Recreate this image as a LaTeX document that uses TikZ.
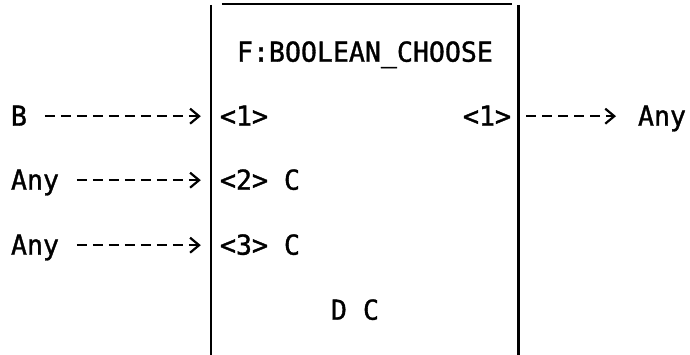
\documentclass[tikz,border=0pt]{standalone}
\usepackage{fontspec}
\usetikzlibrary{arrows.meta, positioning, calc}
\newfontfamily\ttdv{DejaVu Sans Mono}[FakeBold=1.2, FakeStretch=0.966]

\begin{document}
\begin{tikzpicture}[
  x=1pt, y=1pt,
  txt/.style={inner sep=0pt, outer sep=0pt, anchor=base west,
              text height=19pt, text depth=0pt,
              font=\ttdv\fontsize{27.5}{30}\selectfont},
  fnbox/.style={rectangle, draw=none, inner sep=0pt,
                minimum width=307pt, minimum height=350pt},
  vline/.style={line width=2.6pt},
  hline/.style={line width=1.5pt},
  darr/.style={line width=2.2pt, dash pattern=on 10pt off 6pt,
               -{Straight Barb[length=9pt, width=15pt, sep=7pt]}}
]
\useasboundingbox (0,0) rectangle (690,355);

%% ---- Function box ----
\node[fnbox] (fn) at (364.5,175) {};
\draw[vline] (fn.north west) -- (fn.south west);
\draw[vline] (fn.north east) -- (fn.south east);
\draw[hline] ([xshift=11pt, yshift=1pt]fn.north west)
          -- ([xshift=-6pt, yshift=1pt]fn.north east);

%% ---- Texts inside the box ----
\node[txt] (title) at (237,293.3) {F:BOOLEAN\_CHOOSE};
\node[txt] (p1)    at (220,229.3) {<1>};
\node[txt] (p2)    at (220,165.3) {<2> C};
\node[txt] (p3)    at (220,100.3) {<3> C};
\node[txt] (q1)    at (463,229.3) {<1>};
\node[txt] (dc)    at (331,35.3)  {D C};

%% ---- Inputs and output ----
\node[txt] (in1)  at (11,229.3)  {B};
\node[txt] (in2)  at (11,165.3)  {Any};
\node[txt] (in3)  at (11,100.3)  {Any};
\node[txt] (out1) at (638,229.3) {Any};

%% ---- Arrows ----
\draw[darr, shorten <=18pt, shorten >=3pt] (in1.east) -- (in1.east -| fn.west);
\draw[darr, shorten <=18pt, shorten >=3pt] (in2.east) -- (in2.east -| fn.west);
\draw[darr, shorten <=18pt, shorten >=3pt] (in3.east) -- (in3.east -| fn.west);
\draw[darr, shorten <=8pt, shorten >=15pt] (q1.east -| fn.east) -- (out1.west);

\end{tikzpicture}
\end{document}
